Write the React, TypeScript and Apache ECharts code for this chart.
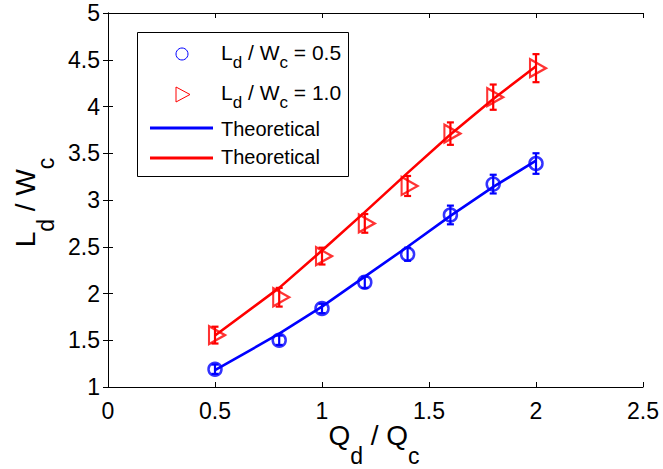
import React, { useEffect, useRef } from "react";
import * as echarts from "echarts";

const xVals = [0.5, 0.8, 1.0, 1.2, 1.4, 1.6, 1.8, 2.0];
const blueMeasured = [1.19, 1.5, 1.84, 2.12, 2.42, 2.84, 3.17, 3.39];
const blueError = [0.05, 0.05, 0.05, 0.06, 0.07, 0.1, 0.1, 0.11];
const redMeasured = [1.555, 1.96, 2.4, 2.75, 3.15, 3.71, 4.1, 4.41];
const redError = [0.09, 0.1, 0.09, 0.1, 0.107, 0.12, 0.135, 0.15];
const blueTheory = [1.18, 1.57, 1.86, 2.18, 2.5, 2.83, 3.14, 3.42];
const redTheory = [1.55, 2.06, 2.46, 2.87, 3.29, 3.7, 4.08, 4.43];

const legendLabels = ["0.5", "1.0"];
const FONT = "'Liberation Sans', Arial, Helvetica, sans-serif";
const BLUE = "#0000ff";
const RED = "#ff0000";

function errorSeries(values: number[], errs: number[], color: string) {
  return {
    type: "custom",
    xAxisIndex: 0,
    yAxisIndex: 0,
    data: xVals.map((x, i) => [x, values[i] - errs[i], values[i] + errs[i]]),
    encode: { x: 0, y: [1, 2] },
    z: 3,
    renderItem: (params: any, api: any) => {
      const x = api.value(0);
      const top = api.coord([x, api.value(2)]);
      const bot = api.coord([x, api.value(1)]);
      const cw = 3.5;
      const st = { stroke: color, lineWidth: 2.2 };
      return {
        type: "group",
        children: [
          { type: "line", shape: { x1: top[0], y1: top[1], x2: bot[0], y2: bot[1] }, style: st },
          { type: "line", shape: { x1: top[0] - cw, y1: top[1], x2: top[0] + cw, y2: top[1] }, style: st },
          { type: "line", shape: { x1: bot[0] - cw, y1: bot[1], x2: bot[0] + cw, y2: bot[1] }, style: st },
        ],
      };
    },
  };
}

const subRich = (F: number, f: number, L: number) => ({
  m: { fontSize: F, fontFamily: FONT, color: "#000", lineHeight: L },
  s: { fontSize: f, fontFamily: FONT, color: "#000", lineHeight: f, verticalAlign: "bottom" },
});

export default function App() {
  const ref = useRef<HTMLDivElement>(null);
  useEffect(() => {
    if (!ref.current) return;
    const chart = echarts.init(ref.current, undefined, { renderer: "svg" });
    const axisCommon = {
      type: "value",
      axisLine: { show: true, lineStyle: { color: "#000", width: 1 } },
      axisTick: { show: true, inside: true, length: 5, lineStyle: { color: "#000" } },
      splitLine: { show: false },
    };
    const labelStyle = { fontSize: 23, color: "#000", fontFamily: FONT };
    chart.setOption({
      animation: false,
      backgroundColor: "#fff",
      grid: { left: 108, right: 20, top: 13, bottom: 82, containLabel: false },
      xAxis: [
        { ...axisCommon, min: 0, max: 2.5, interval: 0.5, position: "bottom", axisLabel: { ...labelStyle, margin: 12 } },
        { ...axisCommon, min: 0, max: 2.5, interval: 0.5, position: "top", axisLabel: { show: false } },
      ],
      yAxis: [
        { ...axisCommon, min: 1, max: 5, interval: 0.5, position: "left", axisLabel: { ...labelStyle, margin: 8 } },
        { ...axisCommon, min: 1, max: 5, interval: 0.5, position: "right", axisLabel: { show: false } },
      ],
      series: [
        errorSeries(blueMeasured, blueError, BLUE),
        errorSeries(redMeasured, redError, RED),
        {
          type: "line",
          data: xVals.map((x, i) => [x, blueTheory[i]]),
          showSymbol: false,
          lineStyle: { color: BLUE, width: 2.6 },
          z: 4,
        },
        {
          type: "line",
          data: xVals.map((x, i) => [x, redTheory[i]]),
          showSymbol: false,
          lineStyle: { color: RED, width: 2.6 },
          z: 4,
        },
        {
          type: "scatter",
          data: xVals.map((x, i) => [x, blueMeasured[i]]),
          symbol: "circle",
          symbolSize: 13,
          itemStyle: { color: "rgba(0,0,0,0)", borderColor: BLUE, borderWidth: 2.5 },
          z: 5,
        },
        {
          type: "scatter",
          data: xVals.map((x, i) => [x, redMeasured[i]]),
          symbol: "triangle",
          symbolRotate: -90,
          symbolSize: [18, 16],
          symbolOffset: [2, 0],
          itemStyle: { color: "rgba(0,0,0,0)", borderColor: RED, borderWidth: 2.2 },
          z: 5,
        },
      ],
      graphic: [
        {
          type: "rect",
          shape: { x: 137.5, y: 32.5, width: 211, height: 144 },
          style: { fill: "#fff", stroke: "#000", lineWidth: 1 },
          z: 10,
        },
        {
          type: "circle",
          shape: { cx: 182, cy: 54, r: 6 },
          style: { fill: "none", stroke: BLUE, lineWidth: 1 },
          z: 11,
        },
        {
          type: "polygon",
          shape: { points: [[176, 87], [190, 94.5], [176, 102]] },
          style: { fill: "none", stroke: RED, lineWidth: 1 },
          z: 11,
        },
        {
          type: "line",
          shape: { x1: 150, y1: 128, x2: 213, y2: 128 },
          style: { stroke: BLUE, lineWidth: 3 },
          z: 11,
        },
        {
          type: "line",
          shape: { x1: 150, y1: 158, x2: 213, y2: 158 },
          style: { stroke: RED, lineWidth: 3 },
          z: 11,
        },
        ...legendLabels.map((v, i) => ({
          type: "text",
          x: 221,
          y: 34.5 + i * 40,
          z: 11,
          style: {
            text: `{m|L}{s|d}{m| / W}{s|c}{m| = ${v}}`,
            rich: subRich(21, 17, 36),
            verticalAlign: "top",
            align: "left",
          },
        })),
        ...[137, 165].map((baseY) => ({
          type: "text",
          x: 221,
          y: baseY - 18,
          z: 11,
          style: {
            text: "Theoretical",
            fontSize: 20,
            fontFamily: FONT,
            fill: "#000",
            verticalAlign: "alphabetic",
            align: "left",
          },
        })),
        {
          type: "text",
          x: 374,
          y: 402.95,
          style: {
            text: "{m|Q}{s|d}{m| / Q}{s|c}",
            rich: subRich(28, 23, 64.5),
            verticalAlign: "top",
            align: "center",
          },
        },
        {
          type: "text",
          x: -7.05,
          y: 202.5,
          rotation: Math.PI / 2,
          style: {
            text: "{m|L}{s|d}{m| / W}{s|c}",
            rich: subRich(28, 23, 64.5),
            verticalAlign: "top",
            align: "center",
          },
        },
      ],
    });
    return () => chart.dispose();
  }, []);
  return <div ref={ref} style={{ width: 663, height: 469, position: "absolute", left: 0, top: 0 }} />;
}
